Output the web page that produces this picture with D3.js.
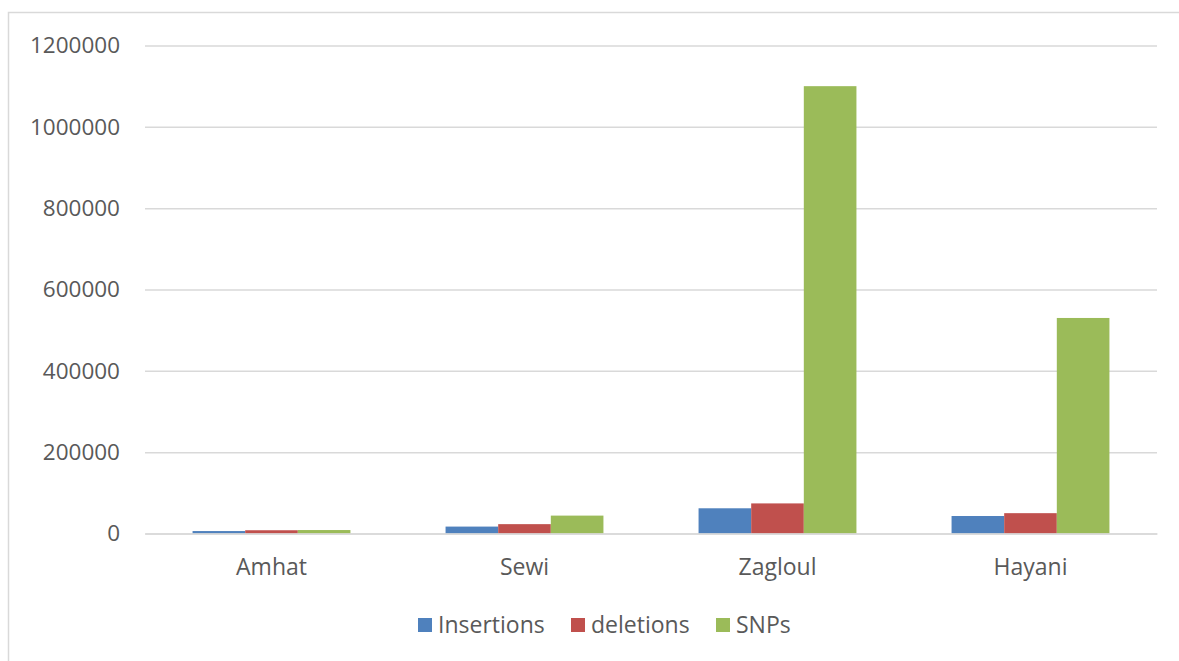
<!DOCTYPE html>
<html>
<head>
<meta charset="utf-8">
<script src="https://cdn.jsdelivr.net/npm/d3@7"></script>
<style>
  html, body { margin: 0; padding: 0; background: #fff; }
  svg { display: block; }
  text { font-family: "Open Sans", "Noto Sans", sans-serif; fill: #595959; }
</style>
</head>
<body>
<script>
// Variant counts per breed
const categories = ["Amhat", "Sewi", "Zagloul", "Hayani"];
const seriesNames = ["Insertions", "deletions", "SNPs"];
const insertions = [6000, 17000, 62000, 43000];
const deletions = [8000, 23000, 74000, 50000];
const snps = [8500, 44000, 1100000, 530000];
const yTicks = [0, 200000, 400000, 600000, 800000, 1000000, 1200000];
const colors = ["#4F81BD", "#C0504D", "#9BBB59"];

const seriesValues = [insertions, deletions, snps];
const rows = categories.map((c, i) => ({
  category: c,
  values: seriesNames.map((s, k) => ({ key: s, value: seriesValues[k][i] }))
}));

const W = 1179, H = 661;
const svg = d3.select("body").append("svg").attr("width", W).attr("height", H);

// outer chart frame
svg.append("rect")
  .attr("x", 8.5).attr("y", 12.5)
  .attr("width", W + 10).attr("height", H + 10)
  .attr("fill", "none").attr("stroke", "#D9D9D9").attr("stroke-width", 1.5);

const plot = { left: 145, right: 1157, top: 45.5, bottom: 533.5 };

const y = d3.scaleLinear().domain([0, 1200000]).range([plot.bottom, plot.top]);
const x0 = d3.scaleBand().domain(categories).range([plot.left, plot.right])
  .paddingInner(0.376).paddingOuter(0.188);
const x1 = d3.scaleBand().domain(seriesNames).range([0, x0.bandwidth()]);
const color = d3.scaleOrdinal().domain(seriesNames).range(colors);

// horizontal gridlines with labels
const yAxis = d3.axisLeft(y).tickValues(yTicks).tickSize(-(plot.right - plot.left))
  .tickPadding(25).tickFormat(d3.format("d"));
const gy = svg.append("g").attr("transform", `translate(${plot.left},0)`).call(yAxis);
gy.select(".domain").remove();
gy.selectAll(".tick line").attr("stroke", "#D9D9D9").attr("stroke-width", 1.5);
gy.selectAll(".tick text").attr("font-size", 22.5).attr("fill", "#595959")
  .attr("font-family", "'Open Sans', sans-serif");

// bars
const groups = svg.append("g").selectAll("g").data(rows).join("g")
  .attr("transform", d => `translate(${x0(d.category)},0)`);
groups.selectAll("rect").data(d => d.values).join("rect")
  .attr("x", d => x1(d.key))
  .attr("y", d => y(d.value))
  .attr("width", x1.bandwidth())
  .attr("height", d => y(0) - y(d.value))
  .attr("fill", d => color(d.key));

// category axis
const xAxis = d3.axisBottom(x0).tickSize(0).tickPadding(25);
const gx = svg.append("g").attr("transform", `translate(0,${plot.bottom})`).call(xAxis);
gx.select(".domain").attr("stroke", "#D9D9D9").attr("stroke-width", 1.5);
gx.selectAll(".tick text").attr("font-size", 23).attr("fill", "#595959")
  .attr("font-family", "'Open Sans', sans-serif");

// legend
const legendX = [418, 571, 716];
const legend = svg.append("g").selectAll("g").data(seriesNames).join("g")
  .attr("transform", (d, i) => `translate(${legendX[i]},618)`);
legend.append("rect").attr("width", 14).attr("height", 14).attr("fill", d => color(d));
legend.append("text").attr("x", 20).attr("y", 7).attr("dy", "0.36em")
  .attr("font-size", 23).text(d => d);
</script>
</body>
</html>
